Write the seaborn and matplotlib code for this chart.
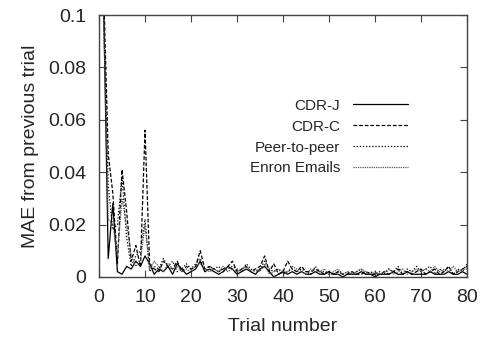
import matplotlib
matplotlib.use("Agg")
import matplotlib.pyplot as plt
import seaborn as sns
import pandas as pd

trials = list(range(1, 81))

cdr_j = [0.105, 0.007, 0.028, 0.002, 0.001, 0.004, 0.003, 0.006, 0.004, 0.008,
         0.005, 0.001, 0.003, 0.002, 0.004, 0.001, 0.005, 0.003, 0.001, 0.002,
         0.003, 0.006, 0.002, 0.003, 0.002, 0.001, 0.002, 0.004, 0.003, 0.001,
         0.002, 0.003, 0.002, 0.001, 0.003, 0.004, 0.002, 0.000, 0.001, 0.002,
         0.001, 0.002, 0.001, 0.002, 0.001, 0.001, 0.002, 0.001, 0.001, 0.002,
         0.001, 0.001, 0.000, 0.001, 0.001, 0.001, 0.002, 0.001, 0.001, 0.000,
         0.001, 0.001, 0.001, 0.002, 0.001, 0.001, 0.002, 0.001, 0.001, 0.001,
         0.001, 0.002, 0.001, 0.001, 0.001, 0.002, 0.001, 0.001, 0.002, 0.001]
cdr_c = [0.110, 0.047, 0.032, 0.005, 0.041, 0.025, 0.006, 0.012, 0.004, 0.056,
         0.005, 0.003, 0.002, 0.006, 0.004, 0.003, 0.006, 0.002, 0.004, 0.003,
         0.004, 0.010, 0.003, 0.004, 0.003, 0.002, 0.003, 0.004, 0.006, 0.002,
         0.003, 0.004, 0.002, 0.003, 0.004, 0.008, 0.002, 0.005, 0.001, 0.002,
         0.006, 0.003, 0.002, 0.004, 0.002, 0.002, 0.003, 0.002, 0.001, 0.002,
         0.001, 0.002, 0.001, 0.001, 0.002, 0.001, 0.001, 0.002, 0.001, 0.001,
         0.001, 0.002, 0.001, 0.002, 0.003, 0.001, 0.002, 0.001, 0.002, 0.003,
         0.001, 0.002, 0.003, 0.001, 0.002, 0.004, 0.001, 0.002, 0.003, 0.004]
peer = [0.100, 0.035, 0.018, 0.020, 0.038, 0.015, 0.004, 0.008, 0.010, 0.022,
        0.002, 0.004, 0.003, 0.007, 0.004, 0.006, 0.002, 0.003, 0.005, 0.003,
        0.005, 0.007, 0.002, 0.004, 0.003, 0.004, 0.002, 0.003, 0.004, 0.003,
        0.002, 0.005, 0.003, 0.002, 0.003, 0.006, 0.003, 0.002, 0.003, 0.001,
        0.002, 0.003, 0.002, 0.003, 0.002, 0.001, 0.004, 0.002, 0.002, 0.001,
        0.001, 0.002, 0.001, 0.002, 0.001, 0.002, 0.003, 0.001, 0.002, 0.001,
        0.002, 0.001, 0.003, 0.002, 0.004, 0.001, 0.003, 0.002, 0.004, 0.002,
        0.003, 0.004, 0.001, 0.003, 0.002, 0.004, 0.001, 0.003, 0.002, 0.005]
enron = [0.100, 0.022, 0.020, 0.008, 0.030, 0.020, 0.008, 0.004, 0.006, 0.020,
         0.003, 0.006, 0.004, 0.002, 0.005, 0.003, 0.004, 0.002, 0.003, 0.002,
         0.004, 0.005, 0.003, 0.002, 0.003, 0.002, 0.004, 0.002, 0.003, 0.002,
         0.003, 0.004, 0.002, 0.003, 0.002, 0.005, 0.001, 0.002, 0.003, 0.002,
         0.002, 0.004, 0.003, 0.002, 0.001, 0.003, 0.002, 0.002, 0.003, 0.001,
         0.002, 0.003, 0.001, 0.002, 0.001, 0.002, 0.003, 0.002, 0.001, 0.002,
         0.001, 0.002, 0.003, 0.001, 0.002, 0.003, 0.001, 0.002, 0.003, 0.002,
         0.003, 0.002, 0.004, 0.002, 0.003, 0.002, 0.004, 0.002, 0.003, 0.003]

series = {"CDR-J": cdr_j, "CDR-C": cdr_c, "Peer-to-peer": peer, "Enron Emails": enron}
styles = {"CDR-J": ("-", "black"), "CDR-C": ((0, (3, 1.5)), "black"),
          "Peer-to-peer": ((0, (1, 1.5)), "black"), "Enron Emails": ((0, (1, 0.8)), "#555555")}

sns.set_style("ticks")
plt.rcParams["font.family"] = ["Liberation Sans", "DejaVu Sans"]

fig, ax = plt.subplots(figsize=(4.83, 3.41), dpi=100)

for name, vals in series.items():
    df = pd.DataFrame({"trial": trials, "mae": vals})
    ls, col = styles[name]
    sns.lineplot(data=df, x="trial", y="mae", ax=ax, color=col, linestyle=ls,
                 linewidth=0.9, label=name)

ax.set_xlim(0, 80)
ax.set_ylim(0, 0.1)
ax.set_xticks(range(0, 81, 10))
ax.set_yticks([0, 0.02, 0.04, 0.06, 0.08, 0.1])
ax.set_yticklabels(["0", "0.02", "0.04", "0.06", "0.08", "0.1"])
ax.tick_params(direction="in", top=True, right=True, length=5, labelsize=14,
               pad=9, color="#444444")
for s in ax.spines.values():
    s.set_linewidth(1.0)
    s.set_color("#444444")
ax.set_xlabel("Trial number", fontsize=14, labelpad=8)
ax.set_ylabel("MAE from previous trial", fontsize=14, labelpad=7)

ax.legend(loc="upper right", bbox_to_anchor=(0.84, 0.68), frameon=False,
          markerfirst=False, handlelength=3.6, handletextpad=0.85,
          labelspacing=0.45, fontsize=11, borderpad=0, borderaxespad=0)

fig.subplots_adjust(left=0.205, right=0.967, top=0.956, bottom=0.188)
fig.savefig("out.png", dpi=100)
